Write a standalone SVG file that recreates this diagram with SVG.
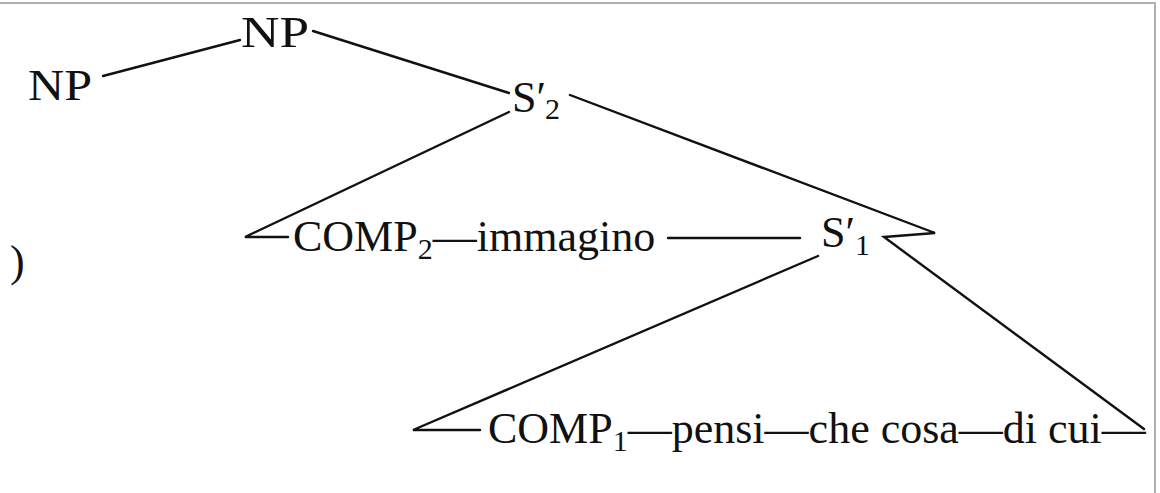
<svg xmlns="http://www.w3.org/2000/svg" width="1160" height="493" viewBox="0 0 1160 493">
<style>
.t{font-family:"Liberation Serif","Times New Roman",serif;font-size:44px;fill:#111}
.sub{font-size:30px}
.c line,.c polyline{stroke:#111;stroke-width:2.4;fill:none;stroke-linecap:round;stroke-linejoin:miter}
.frame{stroke:#b0b0b0;stroke-width:2;fill:none}
</style>
<rect width="1160" height="493" fill="#fff"/>
<polyline class="frame" points="0,3 1155,3 1155,493"/>
<g id="paren"><text class="t" x="10" y="276">)</text></g>
<g id="np-left"><text class="t" x="28" y="100" textLength="64" lengthAdjust="spacingAndGlyphs">NP</text></g>
<g id="np-top"><text class="t" x="241" y="47" textLength="68" lengthAdjust="spacingAndGlyphs">NP</text></g>
<g id="s2"><text class="t" x="512" y="112">S′</text><text class="t sub" x="545" y="119">2</text></g>
<g id="comp2"><text class="t" x="293" y="251">COMP<tspan class="sub" dy="8">2</tspan><tspan dy="-8">—immagino</tspan></text></g>
<g id="s1"><text class="t" x="821" y="247">S′</text><text class="t sub" x="855" y="255">1</text></g>
<g id="comp1"><text class="t" x="488" y="443">COMP<tspan class="sub" dy="8">1</tspan><tspan dy="-8">—pensi—che cosa—di cui—</tspan></text></g>
<g id="connectors" class="c">
<line x1="103" y1="76" x2="240" y2="40"/>
<line x1="313" y1="31" x2="509" y2="93"/>
<polyline points="509,112 245,237 288,237"/>
<line x1="668" y1="238" x2="800" y2="238"/>
<polyline points="570,95 935,233 884,237 1144,429"/>
<polyline points="818,256 413,430 480,430"/>
</g>
</svg>
